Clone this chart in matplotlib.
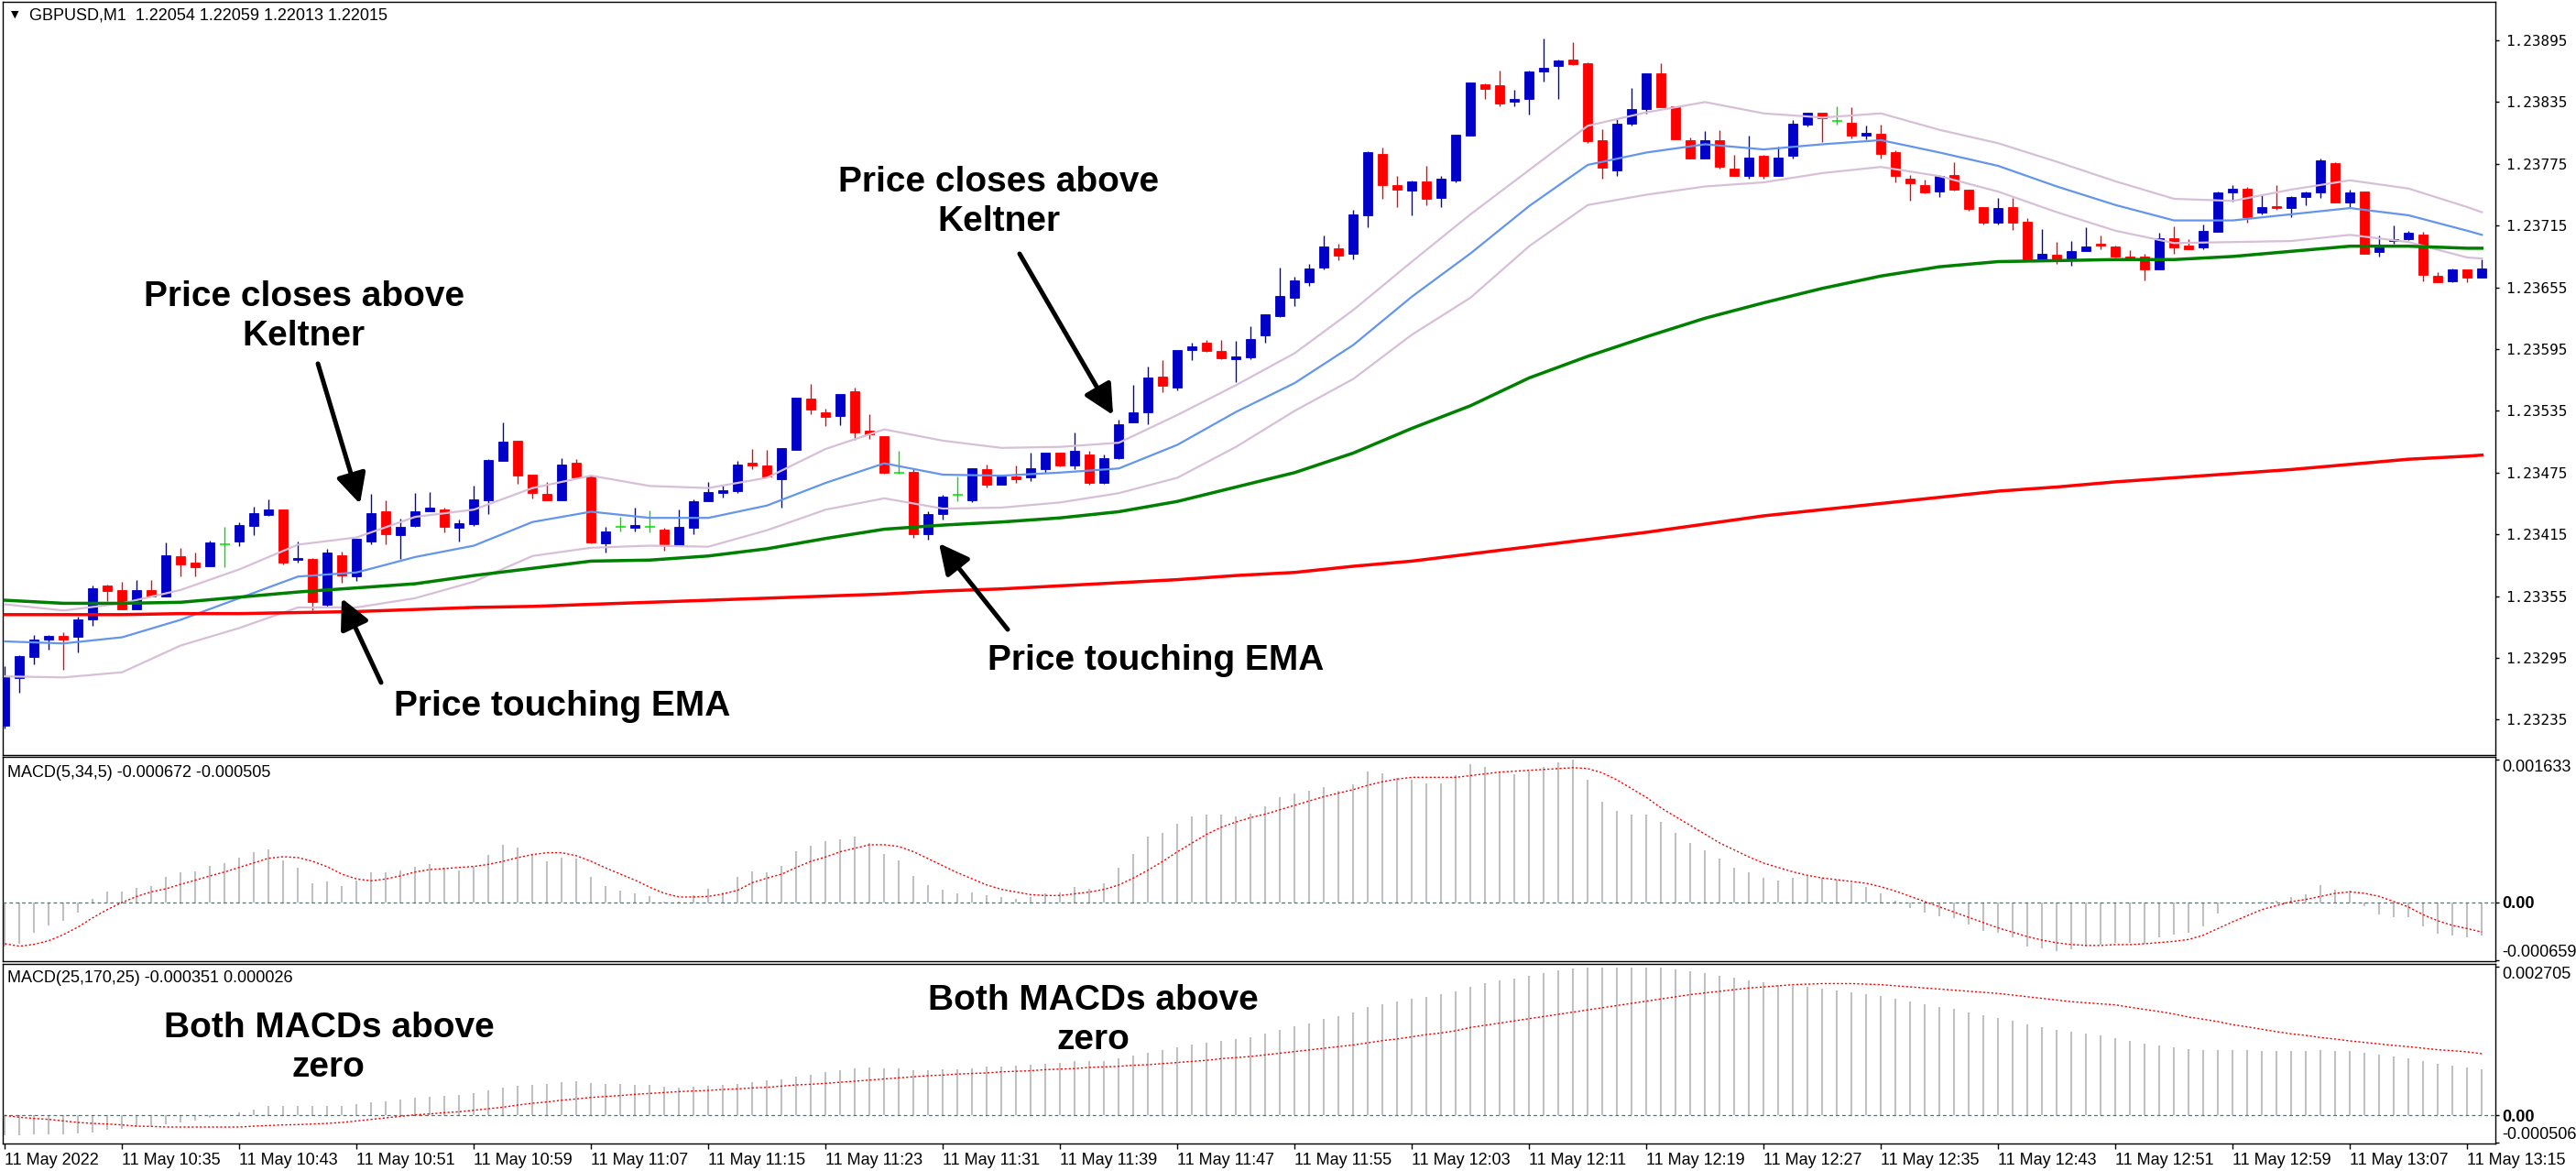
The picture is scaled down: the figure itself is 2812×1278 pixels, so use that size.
import numpy as np
import matplotlib
matplotlib.use("Agg")
import matplotlib.pyplot as plt

# ---------------- data (GBPUSD M1, 170 candles from 10:27) ----------------
open_ = [1.23229, 1.23275, 1.23296, 1.23313, 1.23316, 1.23315, 1.23332, 1.23365, 1.23361, 1.23342,
 1.23361, 1.23355, 1.23394, 1.23388, 1.23384, 1.23405, 1.23408, 1.23423, 1.23434, 1.23439,
 1.23390, 1.23391, 1.23347, 1.23395, 1.23374, 1.23408, 1.23437, 1.23414, 1.23423, 1.23437,
 1.23439, 1.23421, 1.23425, 1.23448, 1.23486, 1.23506, 1.23473, 1.23454, 1.23448, 1.23485,
 1.23471, 1.23406, 1.23422, 1.23421, 1.23422, 1.23420, 1.23404, 1.23421, 1.23447, 1.23455,
 1.23457, 1.23485, 1.23482, 1.23469, 1.23497, 1.23547, 1.23534, 1.23530, 1.23554, 1.23516,
 1.23510, 1.23475, 1.23476, 1.23415, 1.23435, 1.23453, 1.23448, 1.23478, 1.23463, 1.23471,
 1.23470, 1.23478, 1.23494, 1.23482, 1.23493, 1.23465, 1.23489, 1.23524, 1.23534, 1.23568,
 1.23558, 1.23594, 1.23601, 1.23593, 1.23585, 1.23587, 1.23608, 1.23627, 1.23645, 1.23660,
 1.23674, 1.23693, 1.23688, 1.23725, 1.23785, 1.23754, 1.23749, 1.23758, 1.23742, 1.23759,
 1.23802, 1.23852, 1.23851, 1.23835, 1.23838, 1.23865, 1.23870, 1.23876, 1.23873, 1.23798,
 1.23769, 1.23814, 1.23828, 1.23863, 1.23831, 1.23798, 1.23780, 1.23798, 1.23770, 1.23763,
 1.23783, 1.23763, 1.23783, 1.23813, 1.23825, 1.23817, 1.23815, 1.23802, 1.23804, 1.23786,
 1.23761, 1.23754, 1.23748, 1.23764, 1.23750, 1.23733, 1.23718, 1.23733, 1.23719, 1.23682,
 1.23687, 1.23682, 1.23690, 1.23697, 1.23695, 1.23685, 1.23685, 1.23672, 1.23703, 1.23696,
 1.23694, 1.23709, 1.23747, 1.23751, 1.23728, 1.23734, 1.23732, 1.23743, 1.23747, 1.23776,
 1.23737, 1.23748, 1.23689, 1.23700, 1.23702, 1.23706, 1.23666, 1.23661, 1.23672, 1.23664]

high_ = [1.23287, 1.23298, 1.23317, 1.23317, 1.23320, 1.23335, 1.23365, 1.23366, 1.23369, 1.23371,
 1.23371, 1.23407, 1.23402, 1.23397, 1.23409, 1.23422, 1.23427, 1.23442, 1.23449, 1.23439,
 1.23408, 1.23392, 1.23401, 1.23398, 1.23411, 1.23454, 1.23448, 1.23430, 1.23455, 1.23456,
 1.23441, 1.23429, 1.23462, 1.23488, 1.23524, 1.23506, 1.23473, 1.23466, 1.23489, 1.23488,
 1.23473, 1.23422, 1.23432, 1.23441, 1.23438, 1.23421, 1.23439, 1.23449, 1.23466, 1.23462,
 1.23486, 1.23498, 1.23497, 1.23499, 1.23548, 1.23561, 1.23537, 1.23551, 1.23558, 1.23532,
 1.23510, 1.23496, 1.23478, 1.23437, 1.23453, 1.23471, 1.23479, 1.23483, 1.23473, 1.23482,
 1.23494, 1.23494, 1.23494, 1.23514, 1.23496, 1.23493, 1.23526, 1.23560, 1.23578, 1.23584,
 1.23594, 1.23601, 1.23604, 1.23604, 1.23603, 1.23617, 1.23629, 1.23674, 1.23665, 1.23678,
 1.23705, 1.23697, 1.23730, 1.23787, 1.23791, 1.23763, 1.23759, 1.23773, 1.23763, 1.23803,
 1.23854, 1.23853, 1.23866, 1.23847, 1.23866, 1.23897, 1.23876, 1.23893, 1.23874, 1.23809,
 1.23819, 1.23849, 1.23863, 1.23873, 1.23831, 1.23801, 1.23807, 1.23808, 1.23784, 1.23802,
 1.23784, 1.23792, 1.23818, 1.23825, 1.23825, 1.23831, 1.23830, 1.23812, 1.23813, 1.23788,
 1.23764, 1.23760, 1.23764, 1.23777, 1.23750, 1.23733, 1.23742, 1.23742, 1.23722, 1.23712,
 1.23699, 1.23700, 1.23713, 1.23705, 1.23696, 1.23691, 1.23688, 1.23708, 1.23714, 1.23702,
 1.23716, 1.23748, 1.23754, 1.23753, 1.23745, 1.23754, 1.23744, 1.23748, 1.23780, 1.23777,
 1.23750, 1.23748, 1.23705, 1.23715, 1.23710, 1.23709, 1.23670, 1.23673, 1.23672, 1.23682]

low_ = [1.23226, 1.23261, 1.23289, 1.23303, 1.23283, 1.23300, 1.23326, 1.23350, 1.23342, 1.23342,
 1.23355, 1.23355, 1.23374, 1.23374, 1.23384, 1.23383, 1.23404, 1.23414, 1.23433, 1.23386,
 1.23388, 1.23341, 1.23345, 1.23368, 1.23370, 1.23405, 1.23405, 1.23391, 1.23422, 1.23437,
 1.23417, 1.23408, 1.23423, 1.23435, 1.23486, 1.23464, 1.23450, 1.23448, 1.23448, 1.23470,
 1.23406, 1.23397, 1.23418, 1.23418, 1.23417, 1.23399, 1.23404, 1.23415, 1.23447, 1.23451,
 1.23455, 1.23478, 1.23471, 1.23441, 1.23497, 1.23532, 1.23520, 1.23521, 1.23507, 1.23508,
 1.23474, 1.23474, 1.23412, 1.23410, 1.23429, 1.23447, 1.23446, 1.23461, 1.23463, 1.23465,
 1.23467, 1.23475, 1.23481, 1.23478, 1.23463, 1.23464, 1.23488, 1.23524, 1.23522, 1.23553,
 1.23555, 1.23584, 1.23592, 1.23585, 1.23563, 1.23585, 1.23601, 1.23626, 1.23637, 1.23656,
 1.23672, 1.23681, 1.23682, 1.23713, 1.23741, 1.23733, 1.23725, 1.23735, 1.23733, 1.23757,
 1.23802, 1.23838, 1.23831, 1.23831, 1.23823, 1.23855, 1.23838, 1.23871, 1.23795, 1.23761,
 1.23763, 1.23812, 1.23824, 1.23830, 1.23799, 1.23780, 1.23780, 1.23770, 1.23763, 1.23761,
 1.23761, 1.23763, 1.23780, 1.23811, 1.23796, 1.23813, 1.23800, 1.23799, 1.23780, 1.23757,
 1.23739, 1.23746, 1.23743, 1.23749, 1.23729, 1.23716, 1.23716, 1.23711, 1.23682, 1.23682,
 1.23678, 1.23676, 1.23690, 1.23692, 1.23684, 1.23683, 1.23662, 1.23672, 1.23688, 1.23692,
 1.23692, 1.23709, 1.23738, 1.23718, 1.23726, 1.23730, 1.23723, 1.23735, 1.23742, 1.23737,
 1.23733, 1.23688, 1.23685, 1.23697, 1.23701, 1.23661, 1.23660, 1.23660, 1.23660, 1.23664]

close_ = [1.23276, 1.23297, 1.23313, 1.23316, 1.23313, 1.23332, 1.23363, 1.23360, 1.23342, 1.23361,
 1.23355, 1.23395, 1.23386, 1.23383, 1.23407, 1.23405, 1.23424, 1.23436, 1.23439, 1.23388,
 1.23392, 1.23349, 1.23397, 1.23375, 1.23411, 1.23436, 1.23415, 1.23422, 1.23437, 1.23441,
 1.23422, 1.23426, 1.23449, 1.23487, 1.23505, 1.23472, 1.23455, 1.23448, 1.23483, 1.23470,
 1.23407, 1.23418, 1.23422, 1.23424, 1.23422, 1.23405, 1.23422, 1.23447, 1.23456, 1.23458,
 1.23483, 1.23482, 1.23471, 1.23499, 1.23548, 1.23536, 1.23529, 1.23551, 1.23514, 1.23512,
 1.23475, 1.23475, 1.23415, 1.23435, 1.23452, 1.23453, 1.23479, 1.23463, 1.23471, 1.23469,
 1.23479, 1.23494, 1.23482, 1.23496, 1.23465, 1.23489, 1.23522, 1.23534, 1.23567, 1.23559,
 1.23594, 1.23598, 1.23593, 1.23586, 1.23588, 1.23605, 1.23629, 1.23647, 1.23662, 1.23673,
 1.23695, 1.23686, 1.23726, 1.23786, 1.23754, 1.23750, 1.23758, 1.23741, 1.23761, 1.23803,
 1.23854, 1.23848, 1.23834, 1.23838, 1.23865, 1.23868, 1.23875, 1.23872, 1.23797, 1.23771,
 1.23814, 1.23828, 1.23863, 1.23830, 1.23799, 1.23780, 1.23798, 1.23772, 1.23763, 1.23781,
 1.23763, 1.23781, 1.23814, 1.23825, 1.23819, 1.23817, 1.23802, 1.23805, 1.23785, 1.23763,
 1.23756, 1.23747, 1.23763, 1.23750, 1.23731, 1.23718, 1.23732, 1.23718, 1.23682, 1.23688,
 1.23682, 1.23690, 1.23695, 1.23696, 1.23685, 1.23683, 1.23672, 1.23703, 1.23694, 1.23692,
 1.23710, 1.23747, 1.23751, 1.23723, 1.23733, 1.23732, 1.23743, 1.23747, 1.23778, 1.23737,
 1.23747, 1.23688, 1.23694, 1.23702, 1.23708, 1.23667, 1.23660, 1.23672, 1.23664, 1.23673]

# indicator lines, read every 4th bar
line_idx = [0, 4, 8, 12, 16, 20, 24, 28, 32, 36, 40, 44, 48, 52, 56, 60, 64, 68, 72, 76, 80, 84,
            88, 92, 96, 100, 104, 108, 112, 116, 120, 124, 128, 132, 136, 140, 144, 148, 152, 156,
            160, 164, 168, 169]
kelt_mid = [1.23311, 1.23309, 1.23315, 1.23332, 1.23353, 1.23374, 1.23378, 1.23393, 1.23404, 1.23427,
            1.23437, 1.23431, 1.23431, 1.23443, 1.23465, 1.23484, 1.23473, 1.23472, 1.23475, 1.23479,
            1.23502, 1.23534, 1.23562, 1.23599, 1.23646, 1.23688, 1.23734, 1.23774, 1.23786, 1.23794,
            1.23789, 1.23794, 1.23798, 1.23786, 1.23773, 1.23753, 1.23735, 1.23720, 1.23720, 1.23726,
            1.23732, 1.23725, 1.23710, 1.23706]
kelt_upper = [1.23347, 1.23341, 1.23348, 1.23361, 1.23381, 1.23405, 1.23412, 1.23432, 1.23439, 1.23460,
              1.23472, 1.23462, 1.23460, 1.23470, 1.23498, 1.23517, 1.23506, 1.23499, 1.23500, 1.23504,
              1.23531, 1.23560, 1.23591, 1.23633, 1.23680, 1.23726, 1.23769, 1.23812, 1.23825, 1.23835,
              1.23824, 1.23820, 1.23824, 1.23808, 1.23795, 1.23777, 1.23758, 1.23741, 1.23739, 1.23750,
              1.23759, 1.23751, 1.23733, 1.23728]
kelt_lower = [1.23277, 1.23276, 1.23281, 1.23307, 1.23324, 1.23344, 1.23344, 1.23353, 1.23369, 1.23394,
              1.23402, 1.23404, 1.23403, 1.23419, 1.23439, 1.23450, 1.23440, 1.23441, 1.23446, 1.23455,
              1.23470, 1.23500, 1.23535, 1.23566, 1.23609, 1.23645, 1.23695, 1.23735, 1.23745, 1.23753,
              1.23757, 1.23766, 1.23772, 1.23763, 1.23748, 1.23728, 1.23710, 1.23698, 1.23699, 1.23700,
              1.23706, 1.23699, 1.23684, 1.23683]
ema_green = [1.23351, 1.23348, 1.23348, 1.23349, 1.23354, 1.23359, 1.23363, 1.23367, 1.23375, 1.23382,
             1.23389, 1.23390, 1.23394, 1.23401, 1.23411, 1.23420, 1.23424, 1.23427, 1.23431, 1.23437,
             1.23447, 1.23461, 1.23475, 1.23494, 1.23518, 1.23540, 1.23567, 1.23588, 1.23607, 1.23625,
             1.23640, 1.23654, 1.23666, 1.23675, 1.23680, 1.23681, 1.23682, 1.23682, 1.23685, 1.23690,
             1.23695, 1.23695, 1.23693, 1.23693]
ema_red = [1.23337, 1.23337, 1.23337, 1.23338, 1.23338, 1.23339, 1.23340, 1.23342, 1.23344, 1.23345,
           1.23347, 1.23349, 1.23351, 1.23353, 1.23355, 1.23357, 1.23360, 1.23362, 1.23365, 1.23368,
           1.23371, 1.23375, 1.23378, 1.23384, 1.23389, 1.23396, 1.23403, 1.23410, 1.23417, 1.23425,
           1.23433, 1.23439, 1.23445, 1.23451, 1.23457, 1.23461, 1.23466, 1.23470, 1.23474, 1.23478,
           1.23483, 1.23488, 1.23491, 1.23492]

macd1_hist = [-0.000500, -0.000471, -0.000342, -0.000262, -0.000206, -0.000115, 0.000042, 0.000126, 0.000126, 0.000167,
 0.000188, 0.000297, 0.000345, 0.000356, 0.000419, 0.000450, 0.000513, 0.000576, 0.000607, 0.000485,
 0.000398, 0.000220, 0.000241, 0.000188, 0.000251, 0.000345, 0.000345, 0.000366, 0.000408, 0.000436,
 0.000398, 0.000366, 0.000408, 0.000541, 0.000659, 0.000628, 0.000555, 0.000471, 0.000513, 0.000502,
 0.000293, 0.000188, 0.000136, 0.000105, 0.000073, 0.000010, 0.000010, 0.000080, 0.000157, 0.000115,
 0.000293, 0.000356, 0.000345, 0.000419, 0.000586, 0.000649, 0.00070, 0.00072, 0.00075, 0.00068,
 0.00055, 0.00048, 0.00030, 0.00020, 0.00015, 0.00010, 0.00012, 0.00008, 0.00006, 0.00004,
 0.00006, 0.00010, 0.00012, 0.00018, 0.00016, 0.00022, 0.00040, 0.00055, 0.00075, 0.00080,
 0.00090, 0.00098, 0.00100, 0.00100, 0.00098, 0.00102, 0.00110, 0.00120, 0.00125, 0.00128,
 0.00132, 0.00128, 0.00135, 0.00150, 0.00148, 0.00142, 0.00140, 0.00136, 0.00136, 0.00145,
 0.00158, 0.00155, 0.00150, 0.00146, 0.00150, 0.00155, 0.00160, 0.00163, 0.00140, 0.00115,
 0.00105, 0.00100, 0.00100, 0.00092, 0.00080, 0.00068, 0.00060, 0.00050, 0.00040, 0.00035,
 0.00028, 0.00025, 0.00028, 0.00030, 0.00028, 0.00026, 0.00022, 0.00018, 0.00010, 0.00002,
 -0.00006, -0.00012, -0.00016, -0.00018, -0.00025, -0.00032, -0.00035, -0.00040, -0.00050, -0.00052,
 -0.00055, -0.00053, -0.00050, -0.00048, -0.000464, -0.000464, -0.000471, -0.000394, -0.000366, -0.000345,
 -0.000269, -0.000122, 0.000000, -0.000010, 0.000010, 0.000024, 0.000059, 0.000094, 0.000199, 0.000147,
 0.000133, -0.000038, -0.000133, -0.000164, -0.000164, -0.000269, -0.000352, -0.000373, -0.000394, -0.000380]

macd1_signal = [-0.000471, -0.000499, -0.000478, -0.000436, -0.000366, -0.000279, -0.000174, -0.000080, 0.000000, 0.000070,
 0.000122, 0.000157, 0.000209, 0.000255, 0.000304, 0.000349, 0.000401, 0.000454, 0.000506, 0.000523,
 0.000513, 0.000471, 0.000408, 0.000324, 0.000269, 0.000248, 0.000269, 0.000304, 0.000349, 0.000377,
 0.000387, 0.000401, 0.000412, 0.000436, 0.000471, 0.000513, 0.000548, 0.000569, 0.000569, 0.000534,
 0.000471, 0.000394, 0.000324, 0.000255, 0.000174, 0.000105, 0.000063, 0.000063, 0.000070, 0.000098,
 0.000140, 0.000227, 0.000279, 0.000324, 0.000401, 0.000471, 0.00052, 0.00058, 0.00062, 0.00066,
 0.00066, 0.00064, 0.00058, 0.00050, 0.00042, 0.00034, 0.00027, 0.00020, 0.00015, 0.00012,
 0.00009, 0.00008, 0.00008, 0.00010, 0.00012, 0.00015, 0.00020, 0.00028, 0.00037, 0.00047,
 0.00058, 0.00068, 0.00078, 0.00086, 0.00092, 0.00097, 0.00101, 0.00106, 0.00111, 0.00116,
 0.00121, 0.00125, 0.00129, 0.00134, 0.00138, 0.00141, 0.00143, 0.00143, 0.00143, 0.00143,
 0.00145, 0.00147, 0.00149, 0.00150, 0.00151, 0.00152, 0.00153, 0.00154, 0.00153, 0.00148,
 0.00140, 0.00130, 0.00120, 0.00108, 0.00098, 0.00088, 0.00078, 0.00068, 0.00060, 0.00052,
 0.00045, 0.00040, 0.00035, 0.00031, 0.00028, 0.00026, 0.00024, 0.00022, 0.00018, 0.00013,
 0.00007, 0.00001, -0.00005, -0.00011, -0.00017, -0.00023, -0.00029, -0.00034, -0.00039, -0.00043,
 -0.00046, -0.00048, -0.00049, -0.00049, -0.000481, -0.000481, -0.000471, -0.000457, -0.000443, -0.000422,
 -0.000373, -0.000297, -0.000220, -0.000150, -0.000080, -0.000035, 0.000010, 0.000035, 0.000070, 0.000105,
 0.000122, 0.000105, 0.000070, 0.000010, -0.000052, -0.000140, -0.000209, -0.000262, -0.000297, -0.000338]

macd2_hist = [-0.000370, -0.000373, -0.000357, -0.000357, -0.000357, -0.000340, -0.000312, -0.000273, -0.000256, -0.000217,
 -0.000201, -0.000162, -0.000134, -0.000095, -0.000050, 0.000000, 0.000050, 0.000106, 0.000162, 0.000173,
 0.000173, 0.000162, 0.000173, 0.000173, 0.000201, 0.000240, 0.000256, 0.000284, 0.000312, 0.000340,
 0.000357, 0.000368, 0.000407, 0.000451, 0.000507, 0.000535, 0.000552, 0.000574, 0.000608, 0.000619,
 0.000591, 0.000574, 0.000563, 0.000552, 0.000552, 0.000524, 0.000507, 0.000518, 0.000535, 0.000552,
 0.000574, 0.000608, 0.000630, 0.000647, 0.000702, 0.000741, 0.00078, 0.00082, 0.00085, 0.00087,
 0.00086, 0.00085, 0.00082, 0.00082, 0.00083, 0.00084, 0.00086, 0.00088, 0.00089, 0.00090,
 0.00092, 0.00094, 0.00096, 0.00098, 0.00098, 0.00099, 0.00103, 0.00108, 0.00114, 0.00118,
 0.00123, 0.00128, 0.00132, 0.00135, 0.00138, 0.00142, 0.00148, 0.00155, 0.00162, 0.00168,
 0.00175, 0.00180, 0.00187, 0.00197, 0.00203, 0.00208, 0.00212, 0.00216, 0.00220, 0.00226,
 0.00234, 0.00240, 0.00245, 0.00249, 0.00254, 0.00259, 0.00264, 0.00268, 0.00269, 0.00270,
 0.00270, 0.00270, 0.00270, 0.00269, 0.00266, 0.00262, 0.00259, 0.00255, 0.00250, 0.00246,
 0.00242, 0.00238, 0.00236, 0.00234, 0.00231, 0.00228, 0.00224, 0.00221, 0.00217, 0.00212,
 0.00207, 0.00202, 0.00198, 0.00194, 0.00188, 0.00182, 0.00177, 0.00172, 0.00165, 0.00160,
 0.00156, 0.00152, 0.00148, 0.00145, 0.001410, 0.001355, 0.001304, 0.001271, 0.001243, 0.001204,
 0.001187, 0.001187, 0.001187, 0.001187, 0.001171, 0.001171, 0.001171, 0.001171, 0.001187, 0.001171,
 0.001171, 0.001137, 0.001104, 0.001076, 0.001037, 0.000987, 0.000942, 0.000909, 0.000875, 0.000842]

macd2_signal = [-0.000006, -0.000039, -0.000061, -0.000078, -0.000106, -0.000134, -0.000151, -0.000162, -0.000178, -0.000201,
 -0.000206, -0.000217, -0.000217, -0.000217, -0.000217, -0.000217, -0.000217, -0.000201, -0.000190, -0.000178,
 -0.000173, -0.000162, -0.000151, -0.000134, -0.000106, -0.000078, -0.000050, -0.000022, 0.000006, 0.000022,
 0.000045, 0.000061, 0.000089, 0.000117, 0.000145, 0.000184, 0.000217, 0.000240, 0.000273, 0.000295,
 0.000323, 0.000340, 0.000357, 0.000379, 0.000396, 0.000412, 0.000429, 0.000440, 0.000451, 0.000468,
 0.000479, 0.000496, 0.000507, 0.000530, 0.000552, 0.000563, 0.00058, 0.00060, 0.00062, 0.00064,
 0.00066, 0.00068, 0.00070, 0.00072, 0.00073, 0.00075, 0.00076, 0.00077, 0.00079, 0.00080,
 0.00081, 0.00083, 0.00084, 0.00085, 0.00087, 0.00088, 0.00089, 0.00091, 0.00092, 0.00094,
 0.00096, 0.00098, 0.00100, 0.00103, 0.00105, 0.00107, 0.00110, 0.00113, 0.00116, 0.00119,
 0.00122, 0.00125, 0.00128, 0.00132, 0.00136, 0.00139, 0.00143, 0.00147, 0.00150, 0.00154,
 0.00160, 0.00164, 0.00168, 0.00172, 0.00176, 0.00180, 0.00184, 0.00188, 0.00192, 0.00196,
 0.00200, 0.00204, 0.00208, 0.00212, 0.00216, 0.00220, 0.00223, 0.00226, 0.00229, 0.00232,
 0.00234, 0.00236, 0.00238, 0.00239, 0.00240, 0.00240, 0.00240, 0.00239, 0.00238, 0.00236,
 0.00234, 0.00232, 0.00230, 0.00228, 0.00226, 0.00224, 0.00222, 0.00219, 0.00216, 0.00213,
 0.00210, 0.00207, 0.00205, 0.00203, 0.002012, 0.001968, 0.001929, 0.001890, 0.001845, 0.001789,
 0.001750, 0.001706, 0.001650, 0.001611, 0.001566, 0.001522, 0.001483, 0.001455, 0.001416, 0.001388,
 0.001354, 0.001327, 0.001299, 0.001271, 0.001249, 0.001221, 0.001193, 0.001176, 0.001154, 0.001120]

price_ticks = [1.23235, 1.23295, 1.23355, 1.23415, 1.23475, 1.23535, 1.23595, 1.23655,
               1.23715, 1.23775, 1.23835, 1.23895]
macd1_ticks = [-0.000659, 0.0, 0.001633]
macd1_tick_labels = ["-0.000659", "0.00", "0.001633"]
macd2_ticks = [-0.000506, 0.0, 0.002705]
macd2_tick_labels = ["-0.000506", "0.00", "0.002705"]
time_tick_idx = [0, 8, 16, 24, 32, 40, 48, 56, 64, 72, 80, 88, 96, 104, 112, 120, 128, 136,
                 144, 152, 160, 168]
time_labels = ["11 May 2022", "11 May 10:35", "11 May 10:43", "11 May 10:51", "11 May 10:59",
               "11 May 11:07", "11 May 11:15", "11 May 11:23", "11 May 11:31", "11 May 11:39",
               "11 May 11:47", "11 May 11:55", "11 May 12:03", "11 May 12:11", "11 May 12:19",
               "11 May 12:27", "11 May 12:35", "11 May 12:43", "11 May 12:51", "11 May 12:59",
               "11 May 13:07", "11 May 13:15"]

# ---------------- styling ----------------
BULL = "#0000C8"
BEAR = "#FF0000"
DOJI = "#00E000"
SANS = "Liberation Sans"

W, H, DPI = 2812, 1278, 100
fig = plt.figure(figsize=(W / DPI, H / DPI), dpi=DPI)
fig.patch.set_facecolor("white")


def rect(x0, y0, x1, y1):
    return [x0 / W, 1 - y1 / H, (x1 - x0) / W, (y1 - y0) / H]


ax1 = fig.add_axes(rect(3, 2, 2724, 824))
ax2 = fig.add_axes(rect(3, 826, 2724, 1049))
ax3 = fig.add_axes(rect(3, 1052, 2724, 1248))
XL = (-0.144, 169.92)

for ax in (ax1, ax2, ax3):
    ax.set_xlim(*XL)
    ax.set_facecolor("white")
    for s in ax.spines.values():
        s.set_color("black")
        s.set_linewidth(1.0)
    ax.yaxis.tick_right()

# ---------------- candles ----------------
o = np.array(open_); h = np.array(high_); l = np.array(low_); c = np.array(close_)
idx = np.arange(len(c))
up = c > o
dn = c < o
dj = c == o
cols = np.where(up, BULL, np.where(dn, BEAR, DOJI))
ax1.vlines(idx, l, h, colors=cols, lw=1.0, zorder=3)
nb = ~dj
ax1.bar(idx[nb], np.abs(c - o)[nb], bottom=np.minimum(o, c)[nb], width=0.64,
        color=cols[nb], edgecolor=cols[nb], linewidth=0.6, zorder=4)
ax1.hlines(c[dj], idx[dj] - 0.34, idx[dj] + 0.34, colors=DOJI, lw=1.1, zorder=4)

# ---------------- indicator lines ----------------
ax1.plot(line_idx, kelt_upper, color="#D8BFD8", lw=1.6, zorder=5)
ax1.plot(line_idx, kelt_lower, color="#D8BFD8", lw=1.6, zorder=5)
ax1.plot(line_idx, kelt_mid, color="#6495ED", lw=1.6, zorder=5)
ax1.plot(line_idx, ema_green, color="#008000", lw=2.5, zorder=5)
ax1.plot(line_idx, ema_red, color="#FF0000", lw=2.5, zorder=5)

ax1.set_ylim(1.232006, 1.239324)
ax1.set_yticks(price_ticks)
ax1.set_yticklabels([f"{p:.5f}" for p in price_ticks])
ax1.tick_params(axis="y", direction="out", length=3, width=1, pad=5, labelsize=11.5)
for t in ax1.get_yticklabels():
    t.set_fontfamily("DejaVu Sans Mono")
ax1.set_xticks([])

# ---------------- MACD panels ----------------
def macd_panel(ax, hist, sig, ylim, ticks, labels):
    hi = np.arange(len(hist))
    si = np.arange(len(sig))
    ax.vlines(hi, 0, hist, colors="#C0C0C0", lw=1.5, zorder=2)
    ax.axhline(0, color="#2F8080", lw=0.9, ls=(0, (3, 2.5)), zorder=3)
    ax.plot(si, sig, color="#FF0000", lw=1.0, ls=(0, (1.6, 1.6)), zorder=4)
    ax.set_ylim(*ylim)
    ax.set_yticks(ticks)
    ax.set_yticklabels(labels)
    ax.tick_params(axis="y", direction="out", length=3, width=1, pad=2, labelsize=13)
    tl = ax.get_yticklabels()
    for t in tl:
        t.set_fontfamily(SANS)
    tl[0].set_va("bottom")
    tl[1].set_fontweight("bold")
    tl[2].set_va("top")


macd_panel(ax2, macd1_hist, macd1_signal, (-0.000670, 0.001664), macd1_ticks, macd1_tick_labels)
ax2.set_xticks([])
macd_panel(ax3, macd2_hist, macd2_signal, (-0.000518, 0.002759), macd2_ticks, macd2_tick_labels)
ax3.set_xticks(time_tick_idx)
ax3.set_xticklabels(time_labels)
ax3.tick_params(axis="x", direction="out", length=4, width=1, pad=3, labelsize=13)
for t in ax3.get_xticklabels():
    t.set_ha("left")
    t.set_fontfamily(SANS)

# ---------------- header texts ----------------
fig.text(12 / W, 1 - 16 / H, "\u25BC", fontsize=8, family="DejaVu Sans", va="center", ha="left")
fig.text(32 / W, 1 - 17 / H, "GBPUSD,M1  1.22054 1.22059 1.22013 1.22015", fontsize=13,
         family=SANS, va="center", ha="left")
fig.text(8 / W, 1 - 843 / H, "MACD(5,34,5) -0.000672 -0.000505", fontsize=13,
         family=SANS, va="center", ha="left")
fig.text(8 / W, 1 - 1068 / H, "MACD(25,170,25) -0.000351 0.000026", fontsize=13,
         family=SANS, va="center", ha="left")

# ---------------- annotations ----------------
ann_kw = dict(fontsize=28, fontweight="bold", family=SANS, ha="center", va="center",
              linespacing=1.25, zorder=10)
ax1.text(20.4, 1.236270, "Price closes above\nKeltner", **ann_kw)
ax1.text(67.8, 1.237383, "Price closes above\nKeltner", **ann_kw)
ax1.text(38.0, 1.232478, "Price touching EMA", **ann_kw)
ax1.text(78.5, 1.232923, "Price touching EMA", **ann_kw)
ax3.text(22.1, 0.001221, "Both MACDs above\nzero", **ann_kw)
ax3.text(74.25, 0.001739, "Both MACDs above\nzero", **ann_kw)

arrow_kw = dict(arrowstyle="-|>,head_length=0.9,head_width=0.45", lw=3.6, color="black",
                shrinkA=0, shrinkB=0, mutation_scale=22)
ax1.annotate("", xy=(24.23, 1.234446), xytext=(21.36, 1.235808), arrowprops=arrow_kw, zorder=10)
ax1.annotate("", xy=(22.98, 1.233529), xytext=(25.67, 1.232710), arrowprops=arrow_kw, zorder=10)
ax1.annotate("", xy=(63.73, 1.234063), xytext=(68.42, 1.233226), arrowprops=arrow_kw, zorder=10)
ax1.annotate("", xy=(75.61, 1.235309), xytext=(69.23, 1.236876), arrowprops=arrow_kw, zorder=10)

fig.savefig("out.png", dpi=DPI, facecolor="white")
